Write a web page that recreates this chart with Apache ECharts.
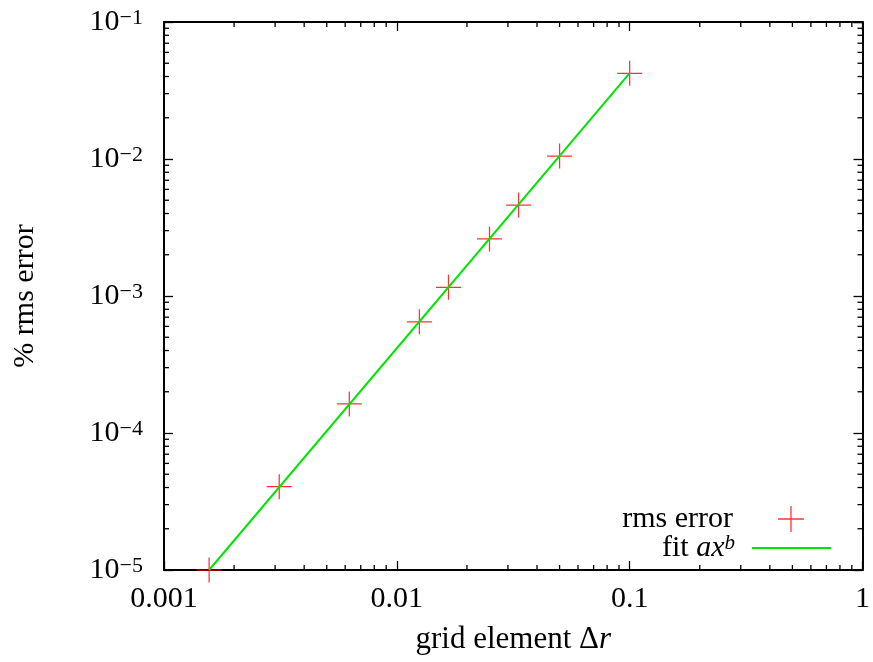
<!DOCTYPE html>
<html>
<head>
<meta charset="utf-8">
<script src="https://cdn.jsdelivr.net/npm/echarts@6/dist/echarts.min.js"></script>
<style>html,body{margin:0;padding:0;background:#fff;}#c{width:873px;height:662px;}</style>
</head>
<body>
<div id="c"></div>
<script>
// ---- data ----
const gridSize = [0.0015625, 0.003125, 0.00625, 0.0125, 0.016667, 0.025, 0.033333, 0.05, 0.1];
const rmsError = [1.0e-5, 4.06e-5, 1.63e-4, 6.48e-4, 1.156e-3, 2.61e-3, 4.61e-3, 1.05e-2, 4.22e-2];
const fitX = [0.0015625, 0.1];
const fitY = [1.0e-5, 0.0424];
const xTickValues = [0.001, 0.01, 0.1, 1];
const xTickLabels = ['0.001', '0.01', '0.1', '1'];
const yTickExponents = [-5, -4, -3, -2, -1];
const X_MIN = 0.001, X_MAX = 1, Y_MIN = 1e-5, Y_MAX = 0.1;

const FONT = 'Liberation Serif';
const FS = 30;

// minor tick values (2..9 per decade)
const xMinor = [], yMinor = [];
for (let e = -3; e < 0; e++) for (let m = 2; m <= 9; m++) xMinor.push(m * Math.pow(10, e));
for (let e = -5; e < -1; e++) for (let m = 2; m <= 9; m++) yMinor.push(m * Math.pow(10, e));
const minorData = xMinor.map(v => [v, Y_MIN, 0]).concat(yMinor.map(v => [X_MIN, v, 1]));

const chart = echarts.init(document.getElementById('c'), null, {renderer: 'canvas'});

const axisLineStyle = {color: '#000', width: 2};
const tickStyle = {color: '#000', width: 1.3};

function xLabel(v) {
  for (let i = 0; i < xTickValues.length; i++) {
    if (Math.abs(Math.log10(v) - Math.log10(xTickValues[i])) < 1e-6) return xTickLabels[i];
  }
  return '';
}
function yLabel(v) {
  const e = Math.round(Math.log10(v));
  if (yTickExponents.indexOf(e) < 0) return '';
  return '{b|10}{s|' + (e < 0 ? '\u2212' + (-e) : e) + '}';
}

const option = {
  backgroundColor: '#fff',
  animation: false,
  textStyle: {fontFamily: FONT, color: '#000'},
  grid: {left: 164, right: 7, top: 22, bottom: 92, containLabel: false},
  xAxis: [{
    type: 'log', logBase: 10, min: X_MIN, max: X_MAX, position: 'bottom',
    axisLine: {show: true, lineStyle: axisLineStyle},
    axisTick: {show: true, inside: true, length: 9, lineStyle: tickStyle},
    splitLine: {show: false}, minorTick: {show: false},
    axisLabel: {formatter: xLabel, fontFamily: FONT, fontSize: FS, color: '#000', margin: 14, lineHeight: 30},
    name: 'grid element \u0394{i|r}', nameLocation: 'middle', nameGap: 55,
    nameTextStyle: {fontFamily: FONT, fontSize: 31, color: '#000', lineHeight: 30,
      rich: {i: {fontFamily: FONT, fontSize: 31, fontStyle: 'italic', color: '#000', lineHeight: 30}}}
  }, {
    type: 'log', logBase: 10, min: X_MIN, max: X_MAX, position: 'top',
    axisLine: {show: true, lineStyle: axisLineStyle},
    axisTick: {show: true, inside: true, length: 9, lineStyle: tickStyle},
    axisLabel: {show: false}, splitLine: {show: false}
  }],
  yAxis: [{
    type: 'log', logBase: 10, min: Y_MIN, max: Y_MAX, position: 'left',
    axisLine: {show: true, lineStyle: axisLineStyle},
    axisTick: {show: true, inside: true, length: 9, lineStyle: tickStyle},
    splitLine: {show: false},
    axisLabel: {formatter: yLabel, margin: 21, color: '#000',
      rich: {
        b: {fontFamily: FONT, fontSize: FS, lineHeight: 30, color: '#000'},
        s: {fontFamily: FONT, fontSize: 22, lineHeight: 17, verticalAlign: 'top', color: '#000'}
      }},
    name: '% rms error', nameLocation: 'middle', nameGap: 124, nameRotate: 90,
    nameTextStyle: {fontFamily: FONT, fontSize: FS, color: '#000', lineHeight: 30}
  }, {
    type: 'log', logBase: 10, min: Y_MIN, max: Y_MAX, position: 'right',
    axisLine: {show: true, lineStyle: axisLineStyle},
    axisTick: {show: true, inside: true, length: 9, lineStyle: tickStyle},
    axisLabel: {show: false}, splitLine: {show: false}
  }],
  legend: [{
    data: ['rms error'], orient: 'vertical', align: 'right', right: 69, top: 504, padding: 0,
    itemWidth: 26, itemHeight: 26, selectedMode: false,
    textStyle: {fontFamily: FONT, fontSize: FS, color: '#000', lineHeight: 30, padding: [0, 40, 0, 0]}
  }, {
    data: [{name: 'fit ax^b', icon: 'rect'}], orient: 'vertical', align: 'right', right: 42, top: 533, padding: 0,
    itemWidth: 79, itemHeight: 2, selectedMode: false,
    formatter: () => 'fit {i|ax}{s|b}',
    textStyle: {fontFamily: FONT, fontSize: FS, color: '#000', lineHeight: 30, padding: [0, 12, 0, 0],
      rich: {
        i: {fontFamily: FONT, fontSize: FS, fontStyle: 'italic', color: '#000', lineHeight: 30},
        s: {fontFamily: FONT, fontSize: 21, fontStyle: 'italic', lineHeight: 17, verticalAlign: 'top', color: '#000'}
      }}
  }],
  series: [{
    name: 'rms error', type: 'scatter', z: 2, clip: false,
    symbol: 'path://M0,4.75H10V5.25H0Z M4.75,0H5.25V10H4.75Z',
    symbolSize: 25,
    itemStyle: {color: '#ff0000'},
    data: gridSize.map((x, i) => [x, rmsError[i]])
  }, {
    name: 'fit ax^b', type: 'line', z: 3, symbol: 'none', showSymbol: false,
    lineStyle: {color: '#00e600', width: 2},
    itemStyle: {color: '#00e600'},
    data: fitX.map((x, i) => [x, fitY[i]])
  }, {
    name: 'minor ticks', type: 'custom', silent: true, z: 4,
    renderItem: function (params, api) {
      const kind = api.value(2);
      const L = 5;
      const st = {stroke: '#000', lineWidth: 1.3};
      if (kind === 0) {
        const v = api.value(0);
        const pb = api.coord([v, Y_MIN]);
        const pt = api.coord([v, Y_MAX]);
        return {type: 'group', children: [
          {type: 'line', shape: {x1: pb[0], y1: pb[1], x2: pb[0], y2: pb[1] - L}, style: st},
          {type: 'line', shape: {x1: pt[0], y1: pt[1], x2: pt[0], y2: pt[1] + L}, style: st}
        ]};
      } else {
        const v = api.value(1);
        const pl = api.coord([X_MIN, v]);
        const pr = api.coord([X_MAX, v]);
        return {type: 'group', children: [
          {type: 'line', shape: {x1: pl[0], y1: pl[1], x2: pl[0] + L, y2: pl[1]}, style: st},
          {type: 'line', shape: {x1: pr[0], y1: pr[1], x2: pr[0] - L, y2: pr[1]}, style: st}
        ]};
      }
    },
    data: minorData
  }]
};
chart.setOption(option);
</script>
</body>
</html>
